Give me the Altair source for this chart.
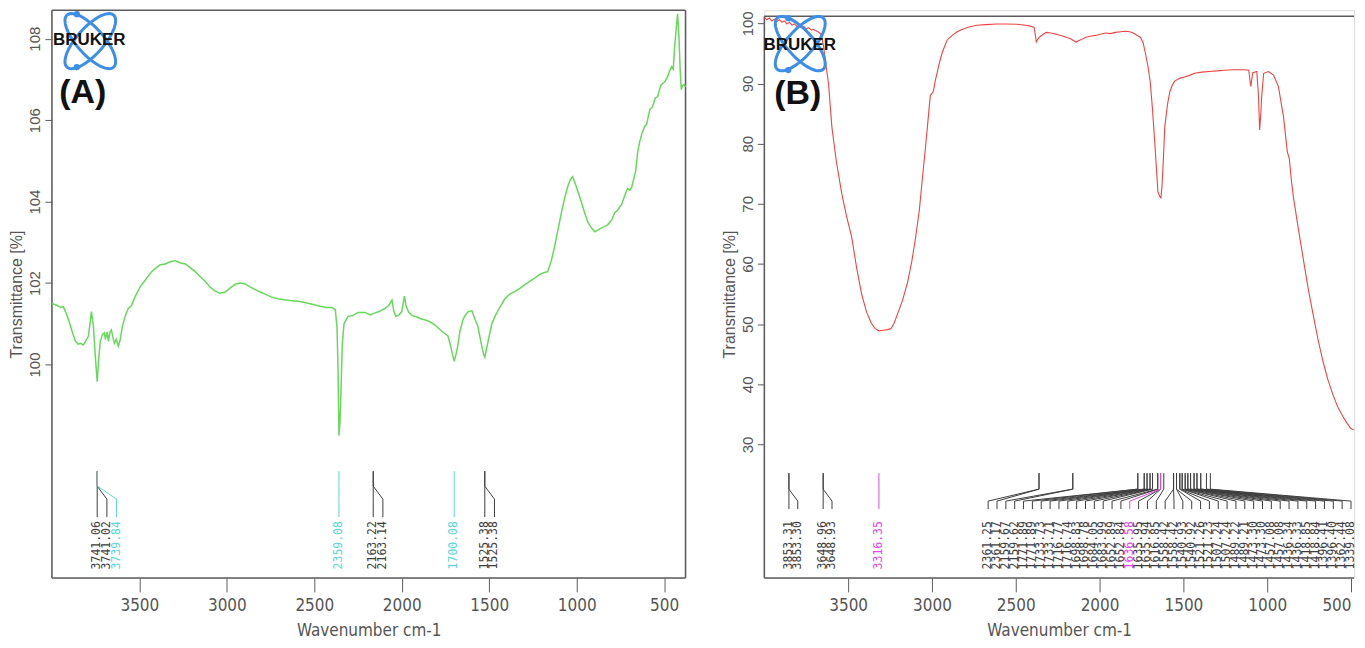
import altair as alt
import numpy as np
import pandas as pd

# ---------------- data ----------------
a_wavenumber = [4000, 3970, 3951, 3935, 3922, 3905, 3894, 3880, 3865, 3850, 3837, 3820, 3808, 3791, 3774, 3763,
                3752, 3741, 3733, 3724, 3711, 3700, 3694, 3684, 3677, 3668, 3660, 3650, 3643, 3632, 3620, 3610,
                3597, 3580, 3563, 3545, 3523, 3494, 3470, 3449, 3430, 3409, 3380, 3352, 3320, 3295, 3270, 3237,
                3210, 3180, 3150, 3123, 3095, 3066, 3040, 3009, 2980, 2952, 2925, 2895, 2865, 2838, 2810, 2781,
                2740, 2695, 2640, 2581, 2530, 2467, 2430, 2398, 2380, 2370, 2364, 2359, 2353, 2347, 2340, 2330,
                2307, 2280, 2250, 2210, 2180, 2163, 2130, 2096, 2075, 2056, 2045, 2033, 2015, 2000, 1985, 1976,
                1960, 1940, 1920, 1896, 1870, 1839, 1810, 1782, 1760, 1736, 1720, 1710, 1700, 1690, 1680, 1668,
                1650, 1639, 1620, 1599, 1580, 1565, 1545, 1532, 1525, 1515, 1500, 1485, 1465, 1440, 1410, 1382,
                1350, 1325, 1300, 1268, 1240, 1211, 1185, 1166, 1145, 1126, 1105, 1086, 1068, 1051, 1035, 1023,
                1005, 983, 960, 937, 915, 897, 880, 869, 845, 823, 800, 783, 765, 743, 725, 709, 695, 686, 663,
                652, 640, 625, 612, 600, 582, 566, 550, 537, 520, 509, 495, 480, 470, 457, 448, 440, 430, 423,
                415, 408, 402, 395, 384, 378]
a_transmittance = [101.50, 101.45, 101.40, 101.42, 101.30, 101.10, 100.95, 100.75, 100.57, 100.50, 100.52, 100.48,
                   100.57, 100.70, 101.30, 100.95, 100.20, 99.58, 100.10, 100.55, 100.74, 100.78, 100.62, 100.80,
                   100.57, 100.80, 100.85, 100.65, 100.52, 100.62, 100.45, 100.60, 100.94, 101.20, 101.38, 101.45,
                   101.68, 101.92, 102.05, 102.17, 102.28, 102.36, 102.45, 102.47, 102.53, 102.55, 102.50, 102.47,
                   102.38, 102.28, 102.15, 102.04, 101.90, 101.80, 101.75, 101.78, 101.88, 101.97, 102.00, 101.98,
                   101.90, 101.84, 101.78, 101.73, 101.65, 101.60, 101.57, 101.55, 101.50, 101.43, 101.40, 101.40,
                   101.35, 100.90, 99.80, 98.25, 98.60, 99.40, 100.50, 101.00, 101.18, 101.20, 101.28, 101.28,
                   101.22, 101.25, 101.30, 101.38, 101.45, 101.58, 101.30, 101.18, 101.22, 101.30, 101.68, 101.45,
                   101.28, 101.20, 101.18, 101.13, 101.10, 101.05, 100.97, 100.86, 100.78, 100.70, 100.45, 100.25,
                   100.08, 100.25, 100.45, 100.80, 101.10, 101.20, 101.30, 101.32, 101.10, 100.94, 100.50, 100.25,
                   100.18, 100.40, 100.70, 101.00, 101.20, 101.40, 101.62, 101.73, 101.80, 101.87, 101.95, 102.04,
                   102.12, 102.21, 102.26, 102.28, 102.55, 102.90, 103.35, 103.76, 104.10, 104.37, 104.55, 104.61,
                   104.40, 104.12, 103.80, 103.50, 103.35, 103.26, 103.30, 103.33, 103.38, 103.43, 103.55, 103.72,
                   103.80, 103.93, 104.15, 104.32, 104.28, 104.35, 104.74, 105.20, 105.47, 105.70, 105.84, 105.90,
                   106.26, 106.33, 106.55, 106.58, 106.85, 106.90, 106.95, 107.07, 107.20, 107.31, 107.25, 107.80,
                   108.30, 108.61, 108.00, 107.20, 106.75, 106.85, 106.87, 106.82]

b_wavenumber = [4000, 3985, 3970, 3955, 3940, 3925, 3910, 3894, 3880, 3865, 3850, 3835, 3820, 3805, 3793, 3780,
                3765, 3750, 3735, 3720, 3708, 3695, 3680, 3666, 3656, 3646, 3632, 3617, 3597, 3570, 3538, 3510,
                3479, 3450, 3420, 3390, 3362, 3340, 3316, 3290, 3265, 3244, 3225, 3204, 3175, 3145, 3120, 3097,
                3075, 3056, 3040, 3027, 3015, 3009, 2998, 2991, 2980, 2968, 2955, 2938, 2910, 2879, 2850, 2820,
                2780, 2731, 2680, 2613, 2560, 2495, 2440, 2407, 2390, 2377, 2370, 2359, 2340, 2318, 2290, 2259,
                2220, 2190, 2171, 2141, 2110, 2082, 2050, 2023, 1995, 1964, 1935, 1905, 1875, 1846, 1820, 1799,
                1775, 1757, 1740, 1728, 1712, 1698, 1685, 1669, 1652, 1640, 1634, 1628, 1620, 1611, 1595, 1581,
                1565, 1552, 1520, 1493, 1460, 1434, 1390, 1346, 1300, 1257, 1200, 1139, 1110, 1098, 1086, 1062,
                1052, 1045, 1038, 1033, 1021, 992, 962, 933, 903, 880, 868, 856, 844, 815, 785, 756, 726, 697,
                667, 638, 608, 580, 549, 525, 502, 483]
b_transmittance = [101.0, 100.6, 100.9, 100.4, 100.7, 100.3, 100.6, 100.2, 100.4, 99.9, 100.2, 99.7, 99.9, 99.5,
                   99.65, 99.3, 99.5, 99.1, 99.3, 98.9, 99.0, 98.8, 98.6, 98.3, 97.5, 96.1, 93.0, 90.0, 82.8, 77.0,
                   71.7, 68.0, 64.5, 59.5, 55.1, 52.0, 50.2, 49.3, 48.9, 49.0, 49.1, 49.3, 50.2, 51.8, 54.0, 57.0,
                   60.5, 64.5, 69.0, 74.5, 79.0, 82.8, 86.5, 88.1, 88.4, 88.8, 90.5, 91.9, 93.5, 95.2, 97.2, 98.0,
                   98.6, 99.0, 99.4, 99.7, 99.8, 99.9, 99.9, 99.85, 99.7, 99.5, 99.3, 96.9, 97.3, 97.7, 98.1, 98.5,
                   98.4, 98.2, 97.9, 97.6, 97.4, 96.9, 97.3, 97.7, 97.9, 98.0, 98.2, 98.4, 98.3, 98.5, 98.6, 98.7,
                   98.6, 98.4, 98.0, 97.7, 96.8, 95.2, 93.0, 90.3, 86.0, 79.5, 72.0, 71.2, 71.0, 72.8, 77.0, 82.8,
                   86.5, 88.6, 89.8, 90.4, 90.9, 91.1, 91.4, 91.7, 91.9, 92.0, 92.1, 92.2, 92.3, 92.3, 92.2, 89.5,
                   91.8, 92.0, 88.0, 82.3, 85.0, 87.8, 91.7, 92.0, 91.4, 89.5, 84.5, 78.7, 77.5, 74.0, 71.2, 66.0,
                   60.9, 56.0, 51.6, 47.5, 43.8, 40.8, 38.3, 36.3, 34.7, 33.6, 32.7, 32.4]

a_peak_values = [3741.06, 3741.02, 3739.84, 2359.08, 2163.22, 2163.14, 1700.08, 1525.38, 1525.38]
a_peak_highlight = [0, 0, 1, 1, 0, 0, 1, 0, 0]
b_peak_values = [3853.31, 3853.30, 3648.96, 3648.93, 3316.35,
                 2361.25, 2361.17, 2159.67, 2159.62, 1771.89, 1771.89, 1733.73, 1733.71, 1716.77, 1716.74,
                 1698.83, 1698.78, 1684.05, 1683.99, 1652.89, 1652.84, 1636.58, 1635.95, 1635.94, 1616.85,
                 1558.42, 1558.42, 1540.93, 1540.92, 1521.26, 1521.23, 1507.24, 1507.24, 1489.22, 1489.21,
                 1473.30, 1473.30, 1457.08, 1457.08, 1436.34, 1436.33, 1418.85, 1418.84, 1396.41, 1396.40,
                 1362.44, 1339.08]
b_peak_highlight = [0, 0, 0, 0, 1,
                    0, 0, 0, 0, 0, 0, 0, 0, 0, 0,
                    0, 0, 0, 0, 0, 0, 1, 0, 0, 0,
                    0, 0, 0, 0, 0, 0, 0, 0, 0, 0,
                    0, 0, 0, 0, 0, 0, 0, 0, 0, 0,
                    0, 0]

x_ticks = [3500, 3000, 2500, 2000, 1500, 1000, 500]
a_y_ticks = [100, 102, 104, 106, 108]
b_y_ticks = [30, 40, 50, 60, 70, 80, 90, 100]

# ---------------- styling / layout ----------------
GREY_TXT = "#555555"
FRAME = "#5c5c5c"
LABEL_GREY = "#3e3e3e"
BLUE = "#3d8ee6"
NARROW = "Liberation Sans Narrow, DejaVu Sans Condensed, Liberation Sans, sans-serif"
SANS = "Liberation Sans, Arial, sans-serif"
MONO = "DejaVu Sans Mono, Liberation Mono, monospace"

A_W, A_H = 635, 569
B_W, B_H = 591, 569
A_XDOM, A_YDOM = [4000, 378], [94.76, 108.7]
B_XDOM, B_YDOM = [4000, 482.1], [7.83, 102.19]


def px_to_y(py, dom, h):
    return dom[1] - py / h * (dom[1] - dom[0])


def spread(peaks, d, limit):
    lab = []
    for i, p in enumerate(peaks):
        lab.append(p if i == 0 else min(p, lab[-1] - d))
    lab[-1] = max(lab[-1], limit)
    for i in range(len(lab) - 2, -1, -1):
        lab[i] = max(lab[i], lab[i + 1] + d)
    return lab


def ellipse_path(angle_deg, a=1.25, b=0.48, sx=0.92, n=72):
    th = np.radians(angle_deg)
    pts = []
    for k in range(n):
        t = 2 * np.pi * k / n
        x, y = a * np.cos(t), b * np.sin(t)
        xr = x * np.cos(th) - y * np.sin(th)
        yr = x * np.sin(th) + y * np.cos(th)
        pts.append(f"{xr * sx:.3f},{yr:.3f}")
    return "M" + "L".join(pts) + "Z"


def x_axis(last_right=False):
    align = "center"
    if last_right:
        align = {"condition": {"test": "datum.value == 500", "value": "right"}, "value": "center"}
    return alt.Axis(values=x_ticks, format="d", title="Wavenumber cm-1", grid=False, domain=False,
                    tickSize=14, tickColor=FRAME, tickWidth=1,
                    labelFont=NARROW, labelFontSize=17, labelColor=GREY_TXT, labelPadding=6,
                    labelAlign=align, labelFlush=False, labelOverlap=False,
                    titleFont=NARROW, titleFontSize=17, titleColor=GREY_TXT, titleFontWeight="normal",
                    titlePadding=9)


def y_axis(vals):
    return alt.Axis(values=vals, format="d", title="Transmittance [%]", grid=False, domain=False,
                    tickSize=7, tickColor=FRAME, tickWidth=1,
                    labelAngle=270, labelAlign="center", labelBaseline="bottom",
                    labelFont=SANS, labelFontSize=15, labelColor=GREY_TXT, labelPadding=2, labelOverlap=False,
                    titleFont=SANS, titleFontSize=16, titleColor=GREY_TXT, titleFontWeight="normal",
                    titlePadding=3)


def build_panel(wn, tr, line_color, line_width, peaks, hl, hl_color, xdom, ydom, w, h, yvals,
                spacing_px, limit, levels, text_px, frame_top, right_frame,
                logo_c, logo_size, dots, bruker_c, tag, tag_c, last_right=False, extra=()):
    xs = alt.Scale(domain=xdom, nice=False, zero=False)
    ys = alt.Scale(domain=ydom, nice=False, zero=False)

    def X(f):
        return alt.X(f"{f}:Q", scale=xs, axis=x_axis(last_right))

    def Y(f):
        return alt.Y(f"{f}:Q", scale=ys, axis=y_axis(yvals))

    one = pd.DataFrame({"a": [0]})
    layers = []
    # frame
    layers.append(alt.Chart(one).mark_rule(color=FRAME, strokeWidth=1.5).encode(
        x=alt.value(0), x2=alt.value(w), y=alt.value(frame_top)))
    layers.append(alt.Chart(one).mark_rule(color=FRAME, strokeWidth=1.5).encode(
        x=alt.value(0), x2=alt.value(w), y=alt.value(h)))
    layers.append(alt.Chart(one).mark_rule(color=FRAME, strokeWidth=1.5).encode(
        x=alt.value(0), y=alt.value(frame_top), y2=alt.value(h)))
    if right_frame:
        layers.append(alt.Chart(one).mark_rule(color=FRAME, strokeWidth=1.5).encode(
            x=alt.value(w), y=alt.value(frame_top), y2=alt.value(h)))

    # spectrum
    spec_df = pd.DataFrame({"wn": wn, "t": tr})
    layers.append(alt.Chart(spec_df).mark_line(color=line_color, strokeWidth=line_width).encode(
        x=X("wn"), y=Y("t")))

    # peak labels
    d = spacing_px / w * (xdom[0] - xdom[1])
    lab = spread(peaks, d, limit)
    yl = [px_to_y(v, ydom, h) for v in levels]
    rows, trows = [], []
    for i, (p, l, hh) in enumerate(zip(peaks, lab, hl)):
        for k, (xx, yy) in enumerate([(p, yl[0]), (p, yl[1]), (l, yl[2]), (l, yl[3])]):
            rows.append({"id": i, "k": k, "x": xx, "y": yy, "hl": hh})
        trows.append({"x": l, "y": px_to_y(text_px, ydom, h), "label": f"{p:.2f}", "hl": hh})
    ldf = pd.DataFrame(rows)
    tdf = pd.DataFrame(trows)
    for flag, col in [(0, LABEL_GREY), (1, hl_color)]:
        sub = ldf[ldf.hl == flag]
        if len(sub):
            layers.append(alt.Chart(sub).mark_line(color=col, strokeWidth=1).encode(
                x=X("x"), y=Y("y"), detail="id:N", order="k:Q"))
    for flag, col in [(0, LABEL_GREY), (1, hl_color)]:
        sub = tdf[tdf.hl == flag]
        if len(sub):
            layers.append(alt.Chart(sub).mark_text(angle=270, align="right", baseline="middle",
                                                   font=MONO, fontSize=11.5, color=col).encode(
                x=X("x"), y=Y("y"), text="label:N"))

    # logo
    for ang in (45, -45):
        layers.append(alt.Chart(one).mark_point(shape=ellipse_path(ang), size=logo_size, filled=False,
                                                strokeWidth=3, color=BLUE, opacity=1).encode(
            x=alt.value(logo_c[0]), y=alt.value(logo_c[1])))
    for dx, dy in dots:
        layers.append(alt.Chart(one).mark_point(shape="circle", size=40, filled=True, color=BLUE,
                                                opacity=1).encode(x=alt.value(dx), y=alt.value(dy)))
    layers.append(alt.Chart(one).mark_text(text="BRUKER", font=SANS, fontWeight="bold", fontSize=17,
                                           color="#111111", align="center", baseline="middle").encode(
        x=alt.value(bruker_c[0]), y=alt.value(bruker_c[1])))
    layers.append(alt.Chart(one).mark_text(text=tag, font=SANS, fontWeight="bold", fontSize=34,
                                           color="#111111", align="center", baseline="middle").encode(
        x=alt.value(tag_c[0]), y=alt.value(tag_c[1])))
    layers.extend(extra)
    return alt.layer(*layers).properties(width=w, height=h)


top_line = alt.Chart(pd.DataFrame({"a": [0]})).mark_rule(color="#000000", strokeWidth=2.5).encode(
    x=alt.value(-30), x2=alt.value(1170), y=alt.value(-3.5))

panel_a = build_panel(a_wavenumber, a_transmittance, "#66d95b", 1.5, a_peak_values, a_peak_highlight, "#5cd6dc",
                      A_XDOM, A_YDOM, A_W, A_H, a_y_ticks,
                      spacing_px=9.7, limit=450, levels=[462, 477, 490, 508], text_px=512,
                      frame_top=0, right_frame=True,
                      logo_c=(38.5, 31), logo_size=3400, dots=[(25, 4), (25, 57)], bruker_c=(37.5, 30),
                      tag="(A)", tag_c=(31, 83), extra=[top_line])

panel_b = build_panel(b_wavenumber, b_transmittance, "#ee4444", 1.1, b_peak_values, b_peak_highlight, "#e048e0",
                      B_XDOM, B_YDOM, B_W, B_H, b_y_ticks,
                      spacing_px=8.87, limit=500, levels=[464, 480, 492, 500], text_px=512,
                      frame_top=6, right_frame=False,
                      logo_c=(36, 33.5), logo_size=3300, dots=[(24, 8), (24, 60)], bruker_c=(35.5, 35),
                      tag="(B)", tag_c=(33.5, 84), last_right=True)

chart = alt.hconcat(panel_a, panel_b, spacing=79, bounds="flush").properties(
    padding={"left": 0, "top": -4.5, "right": 0, "bottom": 0}
).configure_view(stroke=None).configure(background="white")

chart.save("out.html", embed_options={"renderer": "svg", "actions": False})
